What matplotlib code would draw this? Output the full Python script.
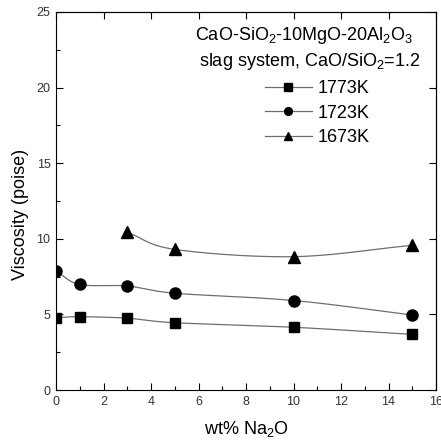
import numpy as np
import matplotlib
matplotlib.use("Agg")
import matplotlib.pyplot as plt
from matplotlib.ticker import MultipleLocator, NullLocator

plt.rcParams['font.family'] = ['Liberation Sans', 'DejaVu Sans']
plt.rcParams['mathtext.default'] = 'regular'

x_1773 = [0, 1, 3, 5, 10, 15]
y_1773 = [4.78, 4.85, 4.75, 4.45, 4.15, 3.68]
x_1723 = [0, 1, 3, 5, 10, 15]
y_1723 = [7.87, 6.98, 6.88, 6.40, 5.92, 4.96]
x_1673 = [3, 5, 10, 15]
y_1673 = [10.43, 9.30, 8.82, 9.57]
labels = ['1773K', '1723K', '1673K']


def catmull(xs, ys, n=40):
    xs = np.asarray(xs, float); ys = np.asarray(ys, float)
    px = np.concatenate([[2*xs[0]-xs[1]], xs, [2*xs[-1]-xs[-2]]])
    py = np.concatenate([[2*ys[0]-ys[1]], ys, [2*ys[-1]-ys[-2]]])
    ox, oy = [], []
    for i in range(1, len(px)-2):
        t = np.linspace(0, 1, n)
        for arr, out in ((px, ox), (py, oy)):
            p0, p1, p2, p3 = arr[i-1], arr[i], arr[i+1], arr[i+2]
            out.extend(0.5*((2*p1) + (-p0+p2)*t + (2*p0-5*p1+4*p2-p3)*t**2 + (-p0+3*p1-3*p2+p3)*t**3))
    return np.array(ox), np.array(oy)


fig = plt.figure(figsize=(4.41, 4.42), dpi=100)
ax = fig.add_axes([0.127, 0.1176, 0.8617, 0.8553])

lc = '#6e6e6e'
series = [(x_1773, y_1773, 's', 7.5), (x_1723, y_1723, 'o', 8), (x_1673, y_1673, '^', 9)]
for (xs, ys, m, ms), lab in zip(series, labels):
    cx, cy = catmull(xs, ys)
    ax.plot(cx, cy, color=lc, lw=0.9, zorder=2)
    ax.plot(xs, ys, linestyle='none', marker=m, color='black', markersize=ms, zorder=3)
    ax.plot([], [], color=lc, lw=0.9, marker=m, markerfacecolor='black',
            markeredgecolor='black', markersize=ms*0.7, label=lab)

ax.set_xlim(0, 16)
ax.set_ylim(0, 25)
ax.xaxis.set_major_locator(MultipleLocator(2))
ax.xaxis.set_minor_locator(MultipleLocator(1))
ax.yaxis.set_major_locator(MultipleLocator(5))
ax.yaxis.set_minor_locator(MultipleLocator(2.5))
ax.tick_params(which='both', direction='in', labelsize=9, pad=4, width=0.8,
               labelcolor='#333333')
ax.tick_params(which='major', length=5)
ax.tick_params(which='minor', length=3)
sec = ax.secondary_xaxis('top')
sec.xaxis.set_major_locator(MultipleLocator(2))
sec.xaxis.set_minor_locator(NullLocator())
sec.tick_params(direction='in', length=5, labeltop=False, width=0.8)
secy = ax.secondary_yaxis('right')
secy.yaxis.set_major_locator(MultipleLocator(5))
secy.yaxis.set_minor_locator(NullLocator())
secy.tick_params(direction='in', length=5, labelright=False, width=0.8)

ax.set_xlabel('wt% Na$_2$O', fontsize=13, labelpad=8)
ax.set_ylabel('Viscosity (poise)', fontsize=13, labelpad=8)
ax.yaxis.set_label_coords(-0.07, 0.465)

ax.text(0.94, 0.939, 'CaO-SiO$_2$-10MgO-20Al$_2$O$_3$', transform=ax.transAxes,
        ha='right', va='center', fontsize=13)
ax.text(0.958, 0.868, 'slag system, CaO/SiO$_2$=1.2', transform=ax.transAxes,
        ha='right', va='center', fontsize=13)

ax.legend(loc='upper left', bbox_to_anchor=(0.55, 0.8195), frameon=False, fontsize=13,
          handlelength=2.6, handletextpad=0.33, labelspacing=0.42, borderpad=0,
          borderaxespad=0)

fig.savefig('out.png', dpi=100)
